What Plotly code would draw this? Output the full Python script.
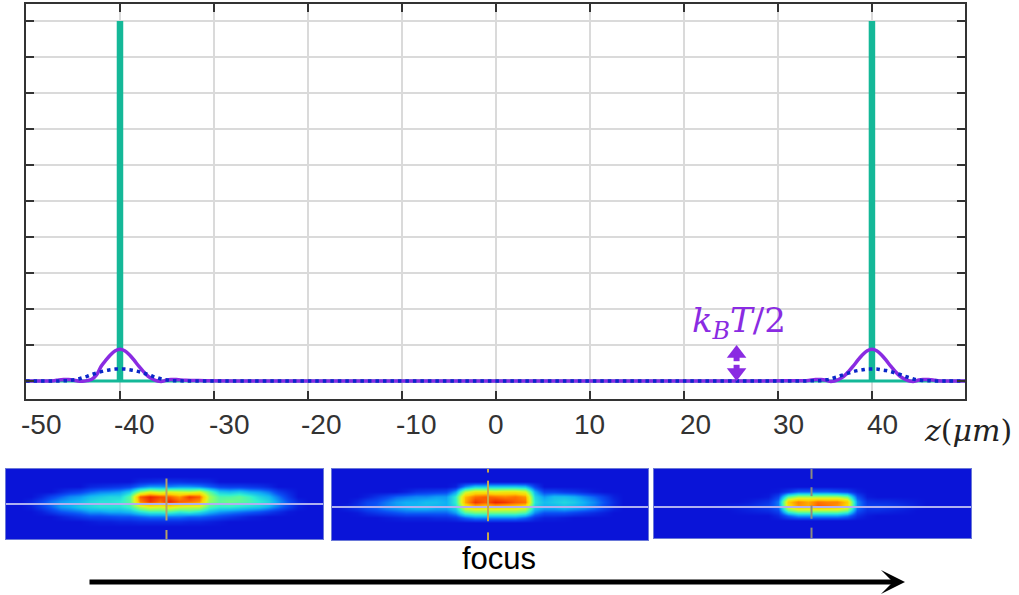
import plotly.graph_objects as go

W, H = 1019, 595

# Main plot data
z_um = [-50, -48, -47, -46.5, -46, -45.5, -45, -44.5, -44, -43.5, -43, -42.5, -42, -41.5, -41, -40.5, -40,
        -39.5, -39, -38.5, -38, -37.5, -37, -36.5, -36, -35.5, -35, -34.5, -34, -33, -31, -28, -20, -10, 0, 10, 20, 28, 31, 33,
        34, 34.5, 35, 35.5, 36, 36.5, 37, 37.5, 38, 38.5, 39, 39.5, 40,
        40.5, 41, 41.5, 42, 42.5, 43, 43.5, 44, 44.5, 45, 45.5, 46, 46.5, 47, 48, 49.9]
purple = [0, 0, 0.01, 0.03, 0.04, 0.04, 0.03, 0, -0.01, 0.01, 0.05, 0.17, 0.41, 0.58, 0.73, 0.84, 0.88,
          0.84, 0.73, 0.58, 0.41, 0.26, 0.13, 0.05, 0, -0.01, 0.03, 0.04, 0.04, 0.02, 0.01, 0, 0, 0, 0, 0, 0, 0, 0.01, 0.01,
          0.04, 0.04, 0.03, -0.01, 0, 0.05, 0.13, 0.26, 0.41, 0.58, 0.73, 0.84, 0.88,
          0.84, 0.73, 0.58, 0.41, 0.26, 0.13, 0.05, 0, -0.01, 0.03, 0.04, 0.04, 0.03, 0.01, 0, 0]
blue = [0, 0, 0, 0, 0.01, 0.01, 0.03, 0.05, 0.09, 0.13, 0.18, 0.22, 0.26, 0.29, 0.31, 0.33, 0.33,
        0.33, 0.31, 0.29, 0.26, 0.22, 0.18, 0.13, 0.09, 0.05, 0.03, 0.01, 0.01, 0, 0, 0, 0, 0, 0, 0, 0, 0, 0, 0,
        0.01, 0.01, 0.03, 0.05, 0.09, 0.13, 0.18, 0.22, 0.26, 0.29, 0.31, 0.33, 0.33,
        0.33, 0.31, 0.29, 0.26, 0.22, 0.18, 0.13, 0.09, 0.05, 0.03, 0.01, 0.01, 0, 0, 0, 0]
spike_z = [-40, 40]
spike_top = 10
baseline_z = [-50, 49.9]
baseline_v = [0, 0]
kbt_z = [25.6, 25.6, None, 25.6, 25.6]
kbt_v = [0.85, 0.55, None, 0.45, 0.15]
kbt_up = 0.764
kbt_down = 0.236
x_ticks = [-50, -40, -30, -20, -10, 0, 10, 20, 30, 40]
y_ticks = [0, 1, 2, 3, 4, 5, 6, 7, 8, 9, 10]
x_labels = ["-50", "-40", "-30", "-20", "-10", "0", "10", "20", "30", "40"]
x_label_shift = [15, 14, 15, 13, 14, 0, 0, 12, 11, 11]

strip1 = [
    [1]*32,
    [1]*32,
    [1,1,1,1,1,1,1,1,1,1,1,1,1,1.3,1.4,1.5,1.5,1.5,1.4,1.4,1.3,1,1,1,1,1,1,1,1,1,1,1],
    [1,1,1,1,1,1,1,1,1.3,1.4,1.5,1.6,1.8,2.4,2.8,2.8,2.6,2.8,2.8,2.6,2.2,1.8,1.7,1.7,1.6,1.5,1.3,1,1,1,1,1],
    [1,1,1,1,1,1.3,1.6,1.8,2.2,2.5,2.6,2.8,3.4,5.2,6,5.6,6,5.8,5.6,6,4.6,3.4,3.2,3.4,3,2.8,2.4,1.7,1.3,1,1,1],
    [1,1,1,1.3,1.8,2.2,2.6,2.8,3.2,3.4,3.6,3.6,4.6,8.2,8.8,8.4,8.2,7.6,8.6,8.2,5.4,4.4,4.4,4.6,4.2,3.6,3.2,2.4,1.6,1,1,1],
    [1,1,1.3,1.8,2.4,2.8,3,3.2,3.6,3.8,3.8,4,4.6,7.8,8.6,8,8.8,8.2,8,7.6,5.2,4.6,4.8,4.6,4.4,4,3.6,2.8,2,1.3,1,1],
    [1,1,1.2,1.7,2.2,2.8,3,3.4,3.6,3.8,3.8,3.8,4.2,5.6,6.2,6,6.4,6,5.8,5.8,4.4,4,4,3.8,3.6,3.4,3,2.4,1.8,1.2,1,1],
    [1,1,1,1.2,1.6,2,2.2,2.4,2.8,2.8,3,3,3.2,3.8,4.2,4.2,4.4,4,4.2,3.8,3.2,2.8,2.6,2.4,2.2,2,1.7,1.4,1.1,1,1,1],
    [1,1,1,1,1,1.2,1.4,1.6,1.8,1.8,1.9,2,2,2.2,2.4,2.4,2.4,2.4,2.2,2.2,2,1.8,1.6,1.4,1.2,1.1,1,1,1,1,1,1],
    [1,1,1,1,1,1,1,1,1.1,1.2,1.2,1.3,1.3,1.4,1.4,1.4,1.4,1.4,1.3,1.3,1.2,1.1,1,1,1,1,1,1,1,1,1,1],
    [1]*32,
    [1]*32,
    [1]*32,
]
strip2 = [
    [1]*32,
    [1]*32,
    [1]*32,
    [1,1,1,1,1,1,1,1,1,1,1,1,1.2,2.6,3.4,3.4,3.4,3.4,3.4,3.2,1.8,1,1,1,1,1,1,1,1,1,1,1],
    [1,1,1,1,1,1,1,1.2,1.5,1.6,1.7,1.8,2.8,5.6,6.4,6.4,6.2,6.4,6.4,6,3,1.8,1.8,1.6,1.5,1.3,1.1,1,1,1,1,1],
    [1,1,1,1.2,1.5,1.8,2.2,2.4,2.6,2.6,2.8,2.8,4,7.2,8,8.2,8,7.8,8,7.6,3.6,2.8,3.2,3.2,3,2.6,2.2,1.7,1.2,1,1,1],
    [1,1,1.3,1.8,2,2.4,2.8,3,3,3.2,3.2,3,4,7.4,8.6,8.2,8.8,8.6,8.2,8,3.8,3.2,3.4,3.6,3.4,3,2.6,2,1.4,1,1,1],
    [1,1.3,1.6,2,2.2,2.6,2.8,3,3.2,3.2,3,3,3.6,6,6.6,6.4,6.6,6.4,6.4,6,3.4,3,3,3.2,3,2.8,2.4,1.8,1.3,1,1,1],
    [1,1,1.1,1.4,1.6,1.8,2,2.2,2.2,2.2,2.2,2.2,2.8,4.4,4.8,4.8,4.8,4.8,4.8,4.4,2.6,2,2,2,1.8,1.6,1.4,1.2,1,1,1,1],
    [1,1,1,1,1,1.1,1.2,1.3,1.3,1.3,1.4,1.4,1.6,2.2,2.6,2.6,2.6,2.6,2.6,2.2,1.5,1.2,1.2,1.1,1,1,1,1,1,1,1,1],
    [1]*32,
    [1]*32,
    [1]*32,
    [1]*32,
]
strip3 = [
    [1]*32,
    [1]*32,
    [1]*32,
    [1]*32,
    [1,1,1,1,1,1,1,1,1,1,1,1,1.1,1.6,2.2,2.2,2.2,2.2,2,1.8,1.2,1,1,1,1,1,1,1,1,1,1,1],
    [1,1,1,1,1,1,1,1,1,1,1,1.1,1.8,4.6,5.4,5.4,5.4,5.4,5.4,4.8,2,1.1,1,1,1,1,1,1,1,1,1,1],
    [1,1,1,1,1,1,1,1,1,1.1,1.3,1.5,2.4,7,7.8,7.4,8,7.8,7.8,7,2.6,1.5,1.4,1.4,1.3,1.2,1.1,1,1,1,1,1],
    [1,1,1,1,1,1,1.1,1.2,1.3,1.4,1.6,1.8,2.4,6.6,7.6,7.4,8.2,8,7.6,6.8,2.6,1.7,1.8,1.7,1.6,1.4,1.2,1,1,1,1,1],
    [1,1,1,1,1,1,1,1,1.1,1.2,1.3,1.4,1.8,4.6,5.4,5.4,5.4,5.4,5.4,4.8,2,1.4,1.4,1.3,1.2,1.1,1,1,1,1,1,1],
    [1,1,1,1,1,1,1,1,1,1,1,1,1.3,2.2,2.8,2.8,2.8,2.8,2.8,2.4,1.4,1.1,1,1,1,1,1,1,1,1,1,1],
    [1]*32,
    [1]*32,
    [1]*32,
    [1]*32,
]
strip_rows = [strip1, strip2, strip3]
beam_row = [6.5, 7.0, 7.2]
centre_col = [15.7, 15.3, 15.4]
centre_y = [
    [1.4, 9.8, None, 11.7, 13.5],
    [-0.5, 0.2, None, 1.8, 9.8, None, 12.0, 13.5],
    [-0.5, 1.5, None, 3.2, 5.0, None, 6.9, 9.6, None, 11.4, 13.5],
]
centre_colour = ["#B5A268", "#C9A84A", "#8C8C80"]

GREEN = "#14B898"
PURPLE = "#8A2BE2"
BLUE = "#0A28C8"
AX = "#333333"
GRID = "#DADADA"

# Pixel boxes of the panels
main_box = (26, 965, 4, 399)
strip_boxes = [(6, 323, 469, 539), (332, 648, 469, 540), (654, 971, 469, 538)]


def xdom(b):
    return [b[0] / W, b[1] / W]


def ydom(b):
    return [1 - b[3] / H, 1 - b[2] / H]


jet = [[0, "#00008C"], [0.1, "#0A14D8"], [0.2, "#0A50F5"], [0.3, "#10B0F5"], [0.4, "#30F0D0"],
       [0.5, "#80FF70"], [0.6, "#E0F520"], [0.7, "#FFD000"], [0.8, "#FF7000"], [0.9, "#E81000"], [1, "#800000"]]

fig = go.Figure()
fig.add_trace(go.Scatter(x=baseline_z, y=baseline_v, mode="lines", line=dict(color=GREEN, width=3), showlegend=False))
for s in spike_z:
    fig.add_trace(go.Scatter(x=[s, s], y=[0, spike_top], mode="lines",
                             line=dict(color=GREEN, width=6.5), showlegend=False))
fig.add_trace(go.Scatter(x=z_um, y=purple, mode="lines", line=dict(color=PURPLE, width=3.5, shape="spline"), showlegend=False))
fig.add_trace(go.Scatter(x=z_um, y=blue, mode="lines", line=dict(color=BLUE, width=3.5, dash="3.5px,4px", shape="spline"),
                         showlegend=False))
fig.add_trace(go.Scatter(x=kbt_z, y=kbt_v, mode="lines", line=dict(color=PURPLE, width=6), showlegend=False))
fig.add_trace(go.Scatter(x=[kbt_z[0]], y=[kbt_up], mode="markers",
                         marker=dict(symbol="triangle-up", size=17, color=PURPLE), showlegend=False))
fig.add_trace(go.Scatter(x=[kbt_z[0]], y=[kbt_down], mode="markers",
                         marker=dict(symbol="triangle-down", size=17, color=PURPLE), showlegend=False))

layout = dict(
    width=W, height=H, margin=dict(l=0, r=0, t=0, b=0), paper_bgcolor="white", plot_bgcolor="white",
    showlegend=False,
    xaxis=dict(domain=xdom(main_box), range=[-50, 49.9], tickvals=x_ticks, showticklabels=False,
               ticks="inside", ticklen=8, tickwidth=2, tickcolor=AX, showline=True, linewidth=2, linecolor=AX,
               mirror="ticks", showgrid=True, gridcolor=GRID, gridwidth=2, zeroline=False),
    yaxis=dict(domain=ydom(main_box), range=[-0.5, 10.47], tickvals=y_ticks, showticklabels=False,
               ticks="inside", ticklen=8, tickwidth=2, tickcolor=AX, showline=True, linewidth=2, linecolor=AX,
               mirror="ticks", showgrid=True, gridcolor=GRID, gridwidth=2, zeroline=False),
)

for i, (rows, box) in enumerate(zip(strip_rows, strip_boxes)):
    n = str(i + 2)
    fig.add_trace(go.Heatmap(z=rows, zmin=0, zmax=10, colorscale=jet, showscale=False, zsmooth="best",
                             xaxis="x" + n, yaxis="y" + n, hoverinfo="skip"))
    fig.add_trace(go.Scatter(x=[-0.5, 31.5], y=[beam_row[i], beam_row[i]], mode="lines",
                             line=dict(color="#B0B0F0", width=2), xaxis="x" + n, yaxis="y" + n, showlegend=False))
    cy = centre_y[i]
    fig.add_trace(go.Scatter(x=[None if v is None else centre_col[i] for v in cy], y=cy, mode="lines",
                             line=dict(color=centre_colour[i], width=2), xaxis="x" + n, yaxis="y" + n, showlegend=False))
    frame = dict(showticklabels=False, ticks="", showgrid=False, zeroline=False, showline=True,
                 linewidth=1, linecolor="#6A78D8", mirror=True)
    layout["xaxis" + n] = dict(domain=xdom(box), range=[-0.5, 31.5], anchor="y" + n, **frame)
    layout["yaxis" + n] = dict(domain=ydom(box), range=[13.5, -0.5], anchor="x" + n, **frame)

fig.update_layout(**layout)

ann = []
label_y = 1 - 424 / H
for t, lab, sh in zip(x_ticks, x_labels, x_label_shift):
    ann.append(dict(x=t, xref="x", y=label_y, yref="paper", xshift=sh, text=lab, showarrow=False,
                    xanchor="center", yanchor="middle",
                    font=dict(family="Liberation Sans", size=28, color=AX)))
ann.append(dict(x=968 / W, y=1 - 430 / H, xref="paper", yref="paper", showarrow=False,
                xanchor="center", yanchor="middle",
                text="<i>z</i>(<i>μm</i>)", font=dict(family="DejaVu Serif", size=30, color="#222222")))
ann.append(dict(x=739 / W, y=1 - 322 / H, xref="paper", yref="paper", showarrow=False,
                xanchor="center", yanchor="middle",
                text="<i>k<sub>B</sub>T</i>/2", font=dict(family="DejaVu Serif", size=34, color=PURPLE)))
ann.append(dict(x=499 / W, y=1 - 558 / H, xref="paper", yref="paper", showarrow=False,
                xanchor="center", yanchor="middle",
                text="focus", font=dict(family="Liberation Sans", size=31, color="#000000")))
ann.append(dict(x=905 / W, y=1 - 582 / H, xref="paper", yref="paper", ax=-817, ay=0,
                axref="pixel", ayref="pixel", text="", showarrow=True, arrowhead=3, arrowsize=0.8,
                arrowwidth=5, arrowcolor="#000000"))
fig.update_layout(annotations=ann)

fig.write_html("out.html", post_script="document.body.style.margin='0';",
               config={"displayModeBar": False})
